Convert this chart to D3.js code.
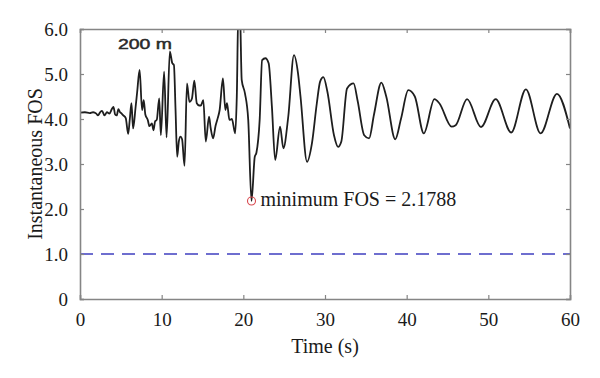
<!DOCTYPE html>
<html>
<head>
<meta charset="utf-8">
<script src="https://cdn.jsdelivr.net/npm/d3@7"></script>
<style>
  html, body { margin: 0; padding: 0; background: #fff; }
  svg { display: block; }
</style>
</head>
<body>
<svg id="chart" width="600" height="378"></svg>
<script>
// ---- data ----
const time = [0,0.6,1.2,1.6,2.0,2.2,2.5,2.7,3.0,3.3,3.6,3.9,4.1,4.3,4.5,4.7,4.9,5.1,5.3,5.6,5.9,6.1,6.3,6.5,6.8,7.0,7.3,7.6,7.8,8.0,8.3,8.5,8.8,9.0,9.2,9.4,9.7,9.9,10.3,10.6,11.0,11.3,11.5,11.7,11.9,12.1,12.3,12.5,12.8,13.1,13.4,13.7,14.0,14.3,14.6,14.8,15.1,15.4,15.8,16.0,16.3,16.6,16.8,17.1,17.5,17.8,18.0,18.3,18.6,19.0,19.2,19.4,19.6,19.8,20.2,20.6,21.0,21.4,21.6,22.0,22.3,22.7,23.1,23.5,23.9,24.5,24.9,25.5,26.2,26.7,27.0,27.8,28.4,29.0,29.4,29.8,30.3,31.1,31.6,32.0,32.7,33.5,34.0,34.8,35.4,36.0,36.9,37.5,38.6,39.3,40.2,41.0,42.1,43.4,44.0,45.5,46.0,47.4,49.1,50.9,52.8,54.6,56.4,58.4,60.0];
const fos  = [4.14,4.15,4.13,4.15,4.12,4.08,4.16,4.18,4.08,4.15,4.12,4.22,4.27,4.10,4.08,4.22,4.15,4.12,4.08,4.02,3.67,4.0,4.35,3.79,4.25,4.6,5.09,4.2,4.42,4.1,3.98,3.84,3.9,3.75,3.95,3.98,4.46,3.64,5.05,3.59,5.5,5.24,5.2,4.2,3.16,3.5,3.61,3.55,2.96,4.79,4.38,4.45,4.85,4.35,4.3,4.3,4.42,3.5,4.05,3.8,3.57,3.85,3.98,4.2,4.9,4.2,4.35,3.98,4.0,3.68,4.5,6.5,6.3,4.87,4.57,3.98,2.1788,3.16,3.25,3.98,5.31,5.35,5.24,4.27,3.09,3.83,3.35,4.05,5.42,5.01,4.5,3.05,3.46,4.35,4.83,4.93,4.6,3.64,3.38,3.5,4.68,4.79,4.4,3.64,3.57,4.1,4.81,4.5,3.55,4.0,4.64,4.5,3.68,4.44,4.35,3.83,3.86,4.44,3.82,4.44,3.7,4.66,3.68,4.56,3.79];
const xTicks = [0,10,20,30,40,50,60];
const yTicks = [0,1,2,3,4,5,6];
const yTickLabels = ["0","1.0","2.0","3.0","4.0","5.0","6.0"];
const thresholdFOS = [1.0];
const minPoint = { t: 21.0, v: 2.1788 };
const minLabel = "minimum FOS = 2.1788";
const caseLabel = "200 m";
const xTitle = "Time (s)";
const yTitle = "Instantaneous FOS";

// ---- drawing ----
(function () {
const svg = d3.select("#chart");
const mL = 80, mR = 570, mT = 29, mB = 299;
const x = d3.scaleLinear().domain([0, 60]).range([mL, mR]);
const y = d3.scaleLinear().domain([0, 6]).range([mB, mT]);
const axisColor = "#858585";
const serif = "'Liberation Serif', 'Times New Roman', serif";

svg.append("defs").append("clipPath").attr("id", "plotclip")
  .append("rect").attr("x", mL).attr("y", mT).attr("width", mR - mL).attr("height", mB - mT);

// threshold dashed line
svg.selectAll("line.thr").data(thresholdFOS).enter().append("line")
  .attr("class", "thr")
  .attr("x1", x(0)).attr("x2", x(60))
  .attr("y1", d => y(d)).attr("y2", d => y(d))
  .attr("stroke", "#3f3fc0").attr("stroke-width", 1.6)
  .attr("stroke-dasharray", "13,8");

// series
const data = time.map((t, i) => ({ t, v: fos[i] }));
const line = d3.line().x(d => x(d.t)).y(d => y(d.v)).curve(d3.curveMonotoneX);
svg.append("path").datum(data)
  .attr("clip-path", "url(#plotclip)")
  .attr("d", line)
  .attr("fill", "none").attr("stroke", "#1e1e1e").attr("stroke-width", 1.8)
  .attr("stroke-linejoin", "round");

// min marker
svg.append("circle")
  .attr("cx", x(minPoint.t)).attr("cy", y(minPoint.v)).attr("r", 4)
  .attr("fill", "none").attr("stroke", "#d9494f").attr("stroke-width", 1.1);

// axes (box with inward ticks)
const gB = svg.append("g").attr("transform", `translate(0,${mB})`)
  .call(d3.axisBottom(x).tickValues(xTicks).tickSize(-4).tickPadding(14).tickFormat(d3.format("d")));
const gT = svg.append("g").attr("transform", `translate(0,${mT})`)
  .call(d3.axisTop(x).tickValues(xTicks).tickSize(-4).tickFormat(""));
const gL = svg.append("g").attr("transform", `translate(${mL},0)`)
  .call(d3.axisLeft(y).tickValues(yTicks).tickSize(-4).tickPadding(12).tickFormat((d, i) => yTickLabels[i]));
const gR = svg.append("g").attr("transform", `translate(${mR},0)`)
  .call(d3.axisRight(y).tickValues(yTicks).tickSize(-4).tickFormat(""));
[gB, gT, gL, gR].forEach(g => {
  g.select(".domain").attr("stroke", axisColor).attr("stroke-width", 1.6);
  g.selectAll(".tick line").attr("stroke", axisColor).attr("stroke-width", 1.2);
  g.selectAll(".tick text").attr("fill", "#1a1a1a").style("font-family", serif).style("font-size", "19px");
});
gB.selectAll(".tick text").attr("dy", "0.71em");

// axis titles
svg.append("text").attr("x", (mL + mR) / 2).attr("y", 353)
  .attr("text-anchor", "middle").style("font-family", serif).style("font-size", "20px")
  .attr("fill", "#1a1a1a").text(xTitle);
svg.append("text").attr("transform", `translate(42,${(mT + mB) / 2}) rotate(-90)`)
  .attr("text-anchor", "middle").style("font-family", serif).style("font-size", "20px")
  .attr("fill", "#1a1a1a").text(yTitle);

// annotations
svg.append("text").attr("x", x(minPoint.t) + 9).attr("y", 206)
  .style("font-family", serif).style("font-size", "20px").attr("fill", "#1a1a1a")
  .text(minLabel);
svg.append("text").attr("x", 118).attr("y", 49)
  .style("font-family", "'Liberation Sans', Arial, sans-serif").style("font-size", "15px")
  .attr("fill", "#2a2a2a").attr("stroke", "#2a2a2a").attr("stroke-width", 0.5)
  .attr("textLength", 54).attr("lengthAdjust", "spacingAndGlyphs")
  .text(caseLabel);
})();
</script>
</body>
</html>
